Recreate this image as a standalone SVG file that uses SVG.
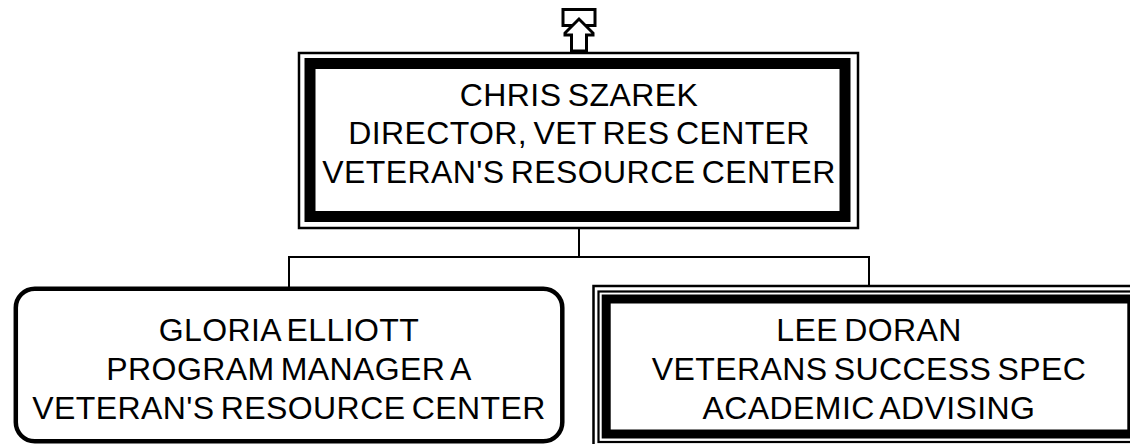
<svg xmlns="http://www.w3.org/2000/svg" width="1130" height="444" viewBox="0 0 1130 444">
  <style>
    .t { font-family: "Liberation Sans", Arial, sans-serif; font-size: 32px; fill: #000; text-anchor: middle; letter-spacing: 0.4px; word-spacing: -3px; }
    .thin { fill: none; stroke: #000; stroke-width: 2.5; }
    .thick { fill: none; stroke: #000; stroke-width: 11; }
    .conn { fill: none; stroke: #000; stroke-width: 2; }
  </style>
  <rect width="1130" height="444" fill="#fff"/>
  <g id="connectors">
    <line class="conn" x1="579" y1="229" x2="579" y2="257"/>
    <line class="conn" x1="288" y1="257" x2="870" y2="257"/>
    <line class="conn" x1="289" y1="257" x2="289" y2="288"/>
    <line class="conn" x1="869" y1="257" x2="869" y2="286"/>
  </g>
  <g id="up-icon">
    <rect x="563" y="9.5" width="32" height="16" fill="#fff" stroke="#000" stroke-width="3"/>
    <polygon points="579,19 565,33 565,35 571.5,35 571.5,51 586.5,51 586.5,35 593,35 593,33" fill="#fff" stroke="#000" stroke-width="3" stroke-linejoin="miter"/>
  </g>
  <g id="node-szarek">
    <rect class="thin" x="299" y="53" width="559" height="175" fill="#fff"/>
    <rect class="thick" x="310" y="63.5" width="535" height="153"/>
    <text class="t" x="579" y="106">CHRIS SZAREK</text>
    <text class="t" x="579" y="144">DIRECTOR, VET RES CENTER</text>
    <text class="t" x="579" y="183">VETERAN'S RESOURCE CENTER</text>
  </g>
  <g id="node-elliott">
    <rect x="15.8" y="288.7" width="546.5" height="152.6" rx="19" ry="19" fill="#fff" stroke="#000" stroke-width="4.5"/>
    <text class="t" x="289" y="341">GLORIA ELLIOTT</text>
    <text class="t" x="289" y="380">PROGRAM MANAGER A</text>
    <text class="t" x="289" y="419">VETERAN'S RESOURCE CENTER</text>
  </g>
  <g id="node-doran">
    <rect class="thin" x="593.5" y="286" width="551" height="161.5" fill="#fff"/>
    <rect x="598.5" y="291.5" width="541" height="150.5" fill="none" stroke="#000" stroke-width="2.2"/>
    <rect x="606.2" y="299" width="525.6" height="135" fill="none" stroke="#000" stroke-width="9"/>
    <text class="t" x="869" y="341">LEE DORAN</text>
    <text class="t" x="869" y="380">VETERANS SUCCESS SPEC</text>
    <text class="t" x="869" y="419">ACADEMIC ADVISING</text>
  </g>
</svg>
